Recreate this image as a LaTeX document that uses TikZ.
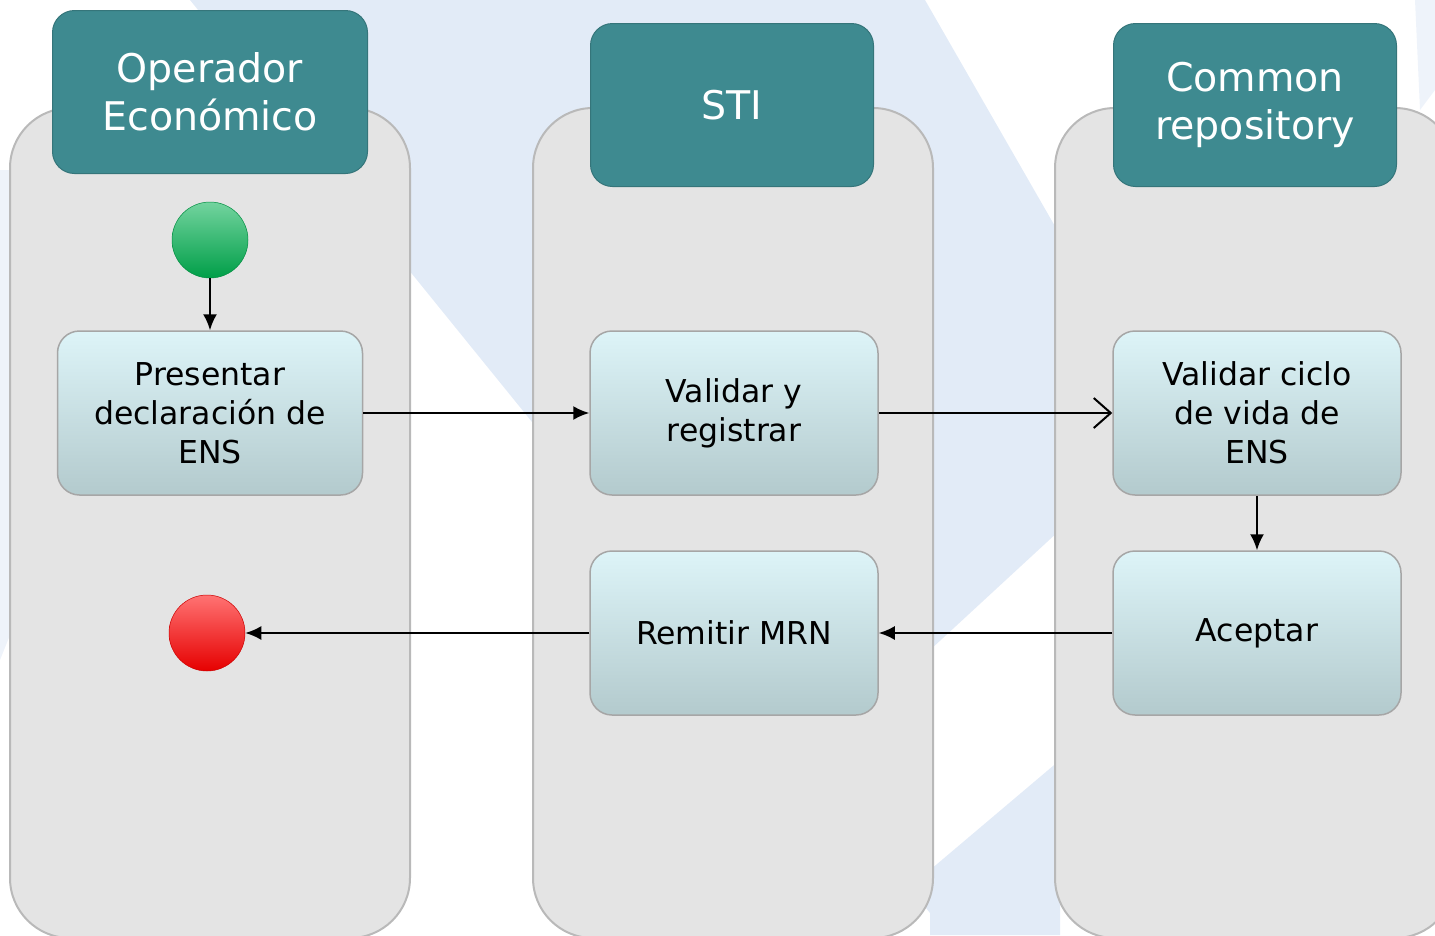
\documentclass[tikz,border=0pt]{standalone}
\usepackage{fontspec}
\setmainfont{DejaVu Sans}
\usetikzlibrary{positioning, arrows.meta}
\usepackage{xcolor}
\definecolor{xteal}{HTML}{3E8A90}
\definecolor{xlane}{HTML}{E4E4E4}
\definecolor{xboxtop}{HTML}{DDF4F8}
\definecolor{xboxbot}{HTML}{B3CACD}
\definecolor{xback}{HTML}{E2EBF7}
\definecolor{xgreen}{HTML}{00B050}
\definecolor{xred}{HTML}{FF0000}

\begin{document}
\begin{tikzpicture}[x=1pt, y=-1pt,
		lane/.style={draw=gray!55, line width=2pt, fill=xlane, rounded corners=60pt, minimum width=400pt, minimum height=830pt},
		head/.style={draw=xteal!85!black, line width=1pt, fill=xteal, rounded corners=22pt, text=white, align=center, inner sep=0pt, minimum height=163pt, font=\fontsize{39.5}{48}\selectfont},
		task/.style={draw=gray!70, line width=1.5pt, top color=xboxtop, bottom color=xboxbot, rounded corners=22pt, align=center, inner sep=0pt, minimum width=288pt, minimum height=164pt, font=\fontsize{31.5}{39}\selectfont},
		dot/.style={circle, minimum size=76pt, draw=#1!80!black, line width=0.5pt, top color=#1!55!white, middle color=#1, bottom color=#1!90!black},
		flow/.style={-{Latex[length=16pt, width=14pt]}, line width=2pt},
	]
		\useasboundingbox (0,0) rectangle (1435,935);

		% background
		\fill[xback] (190,0) -- (925,0) -- (1060,235) -- (1060,530) -- (930,650) -- (930,913) -- cycle;
		\fill[xback] (930,870) -- (1060,760) -- (1060,935) -- (930,935) -- cycle;
		\fill[xback!60] (0,170) -- (12,170) -- (12,630) -- (0,660) -- cycle;
		\fill[xback!60] (1415,0) -- (1435,0) -- (1435,90) -- (1420,110) -- cycle;

		\node[lane] (oe) at (210,523) {};
		\node[lane] (sti) at (733,523) {};
		\node[lane] (cr) at (1255,523) {};

		\node[head, minimum width=315pt] (hoe) at (210,92) {Operador\\Económico};
		\node[head, minimum width=283pt] (hsti) at (732,105) {STI};
		\node[head, minimum width=283pt] (hcr) at (1255,105) {Common\\repository};

		\node[dot=xgreen] (start) at (210,240) {};
		\node[task, minimum width=305pt] (presentar) at (210,413) {Presentar\\declaración de\\ENS};
		\node[task] (validar) at (734,413) {Validar y\\registrar};
		\node[task] (ciclo) at (1257,413) {Validar ciclo\\de vida de\\ENS};
		\node[task] (aceptar) at (1257,633) {Aceptar};
		\node[task] (remitir) at (734,633) {Remitir MRN};
		\node[dot=xred] (stop) at (207,633) {};

		\draw[flow] (start) -- (start |- presentar.north);
		\draw[flow] (presentar) -- (validar);
		\draw[-{Straight Barb[length=17pt, width=30pt]}, line width=2pt] (validar) -- (ciclo);
		\draw[flow] (ciclo) -- (aceptar);
		\draw[flow] (aceptar) -- (remitir);
		\draw[flow] (remitir) -- (stop);
	\end{tikzpicture}
\end{document}
